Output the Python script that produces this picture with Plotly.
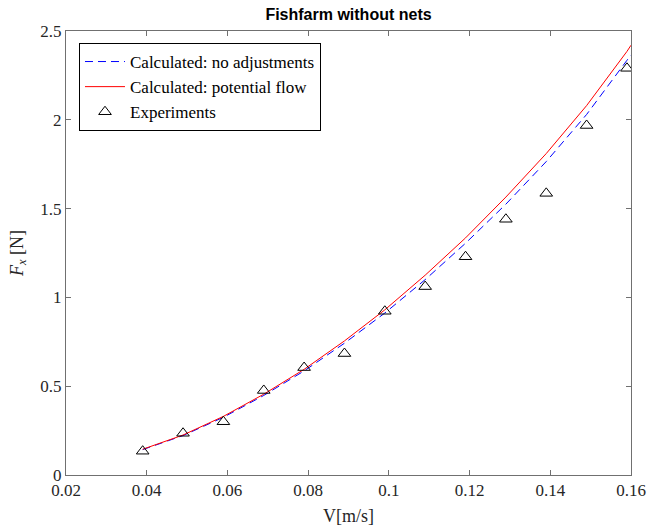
import plotly.graph_objects as go

# Data
v_exp = [0.039, 0.049, 0.059, 0.069, 0.079, 0.089, 0.099, 0.109, 0.119, 0.129, 0.139, 0.149, 0.159]
f_exp = [0.134, 0.235, 0.300, 0.476, 0.605, 0.684, 0.922, 1.061, 1.229, 1.440, 1.586, 1.968, 2.290]

v_calc = [0.039, 0.049, 0.059, 0.069, 0.079, 0.089, 0.099, 0.109, 0.119, 0.129, 0.139, 0.149, 0.159, 0.160]
f_potential = [0.145, 0.225, 0.330, 0.455, 0.595, 0.755, 0.930, 1.125, 1.335, 1.565, 1.810, 2.080, 2.385, 2.420]
f_noadj = [0.143, 0.222, 0.325, 0.448, 0.586, 0.742, 0.912, 1.100, 1.305, 1.525, 1.765, 2.030, 2.335, 2.365]

x_ticks = [0.02, 0.04, 0.06, 0.08, 0.1, 0.12, 0.14, 0.16]
x_tick_labels = ["0.02", "0.04", "0.06", "0.08", "0.1", "0.12", "0.14", "0.16"]
y_ticks = [0, 0.5, 1, 1.5, 2, 2.5]
y_tick_labels = ["0", "0.5", "1", "1.5", "2", "2.5"]

serif = "Liberation Serif"
axis_col = "#707070"

fig = go.Figure()
fig.add_trace(go.Scatter(
    x=v_calc, y=f_noadj, mode="lines", name="Calculated: no adjustments",
    line=dict(color="#0000ff", width=1, dash="8px,5px")))
fig.add_trace(go.Scatter(
    x=v_calc, y=f_potential, mode="lines", name="Calculated: potential flow",
    line=dict(color="#ff0000", width=1)))
fig.add_trace(go.Scatter(
    x=v_exp, y=f_exp, mode="markers", name="Experiments",
    marker=dict(symbol="triangle-up-open", size=11, color="black", line=dict(width=1, color="black"))))

axis_common = dict(
    showgrid=False, zeroline=False, showline=True, linecolor=axis_col, linewidth=1,
    mirror="ticks", ticks="inside", ticklen=5, tickwidth=1, tickcolor=axis_col,
    tickfont=dict(family=serif, size=17, color="#262626"), automargin=False,
)

fig.update_layout(
    width=647, height=526,
    margin=dict(l=66, r=16, t=31, b=51),
    paper_bgcolor="white", plot_bgcolor="white",
    title=dict(text="<b>Fishfarm without nets</b>", x=(66 + 631) / 2 / 647, xanchor="center",
               y=0.984, yanchor="top",
               font=dict(family="Liberation Sans", size=16, color="black")),
    xaxis=dict(range=[0.02, 0.16], tickvals=x_ticks, ticktext=x_tick_labels,
               title=dict(text="V[m/s]", font=dict(family=serif, size=18, color="#262626"), standoff=9),
               **axis_common),
    yaxis=dict(range=[0, 2.5], tickvals=y_ticks, ticktext=y_tick_labels,
               title=dict(text="<i>F</i><sub><i>x</i></sub> [N]", font=dict(family=serif, size=18, color="#262626"), standoff=12),
               **axis_common),
    legend=dict(x=0.023, y=0.973, xanchor="left", yanchor="top",
                bgcolor="white", bordercolor="black", borderwidth=1,
                font=dict(family=serif, size=17, color="black"),
                tracegroupgap=0, itemwidth=40),
    showlegend=True,
)

fig.write_html("out.html")
